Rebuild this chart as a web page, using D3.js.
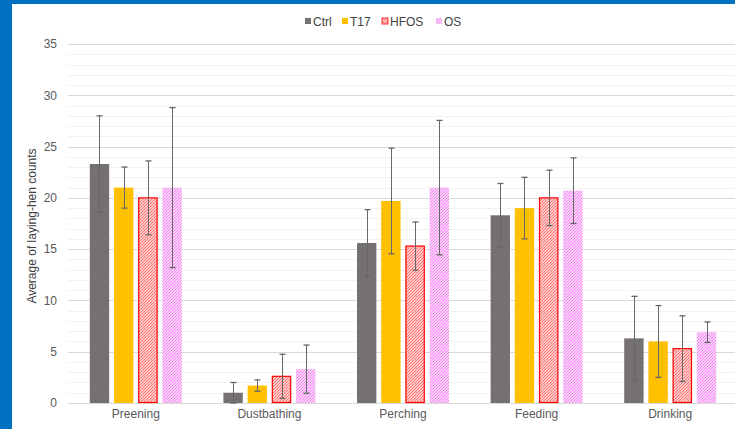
<!DOCTYPE html>
<html>
<head>
<meta charset="utf-8">
<script src="https://cdn.jsdelivr.net/npm/d3@7/dist/d3.min.js"></script>
<style>
  html, body { margin: 0; padding: 0; background: #fff; }
  svg { display: block; font-family: "Liberation Sans", Arial, sans-serif; }
</style>
</head>
<body>
<svg id="chart" width="735" height="429"></svg>
<script>
// Behaviour categories and treatment groups
const categories = ["Preening", "Dustbathing", "Perching", "Feeding", "Drinking"];
const seriesNames = ["Ctrl", "T17", "HFOS", "OS"];

// Mean counts per treatment, in category order
const ctrlValues = [23.3, 1.0, 15.6, 18.3, 6.3];
const t17Values  = [21.0, 1.7, 19.7, 19.0, 6.0];
const hfosValues = [20.0, 2.6, 15.3, 20.0, 5.3];
const osValues   = [21.0, 3.3, 21.0, 20.7, 6.9];

// Error bar half-widths
const ctrlErr = [4.7, 1.0, 3.25, 3.1, 4.1];
const t17Err  = [2.0, 0.55, 5.15, 3.0, 3.5];
const hfosErr = [3.6, 2.15, 2.35, 2.7, 3.2];
const osErr   = [7.8, 2.35, 6.55, 3.2, 1.0];

const yTicks = [0, 5, 10, 15, 20, 25, 30, 35];

const values = [ctrlValues, t17Values, hfosValues, osValues];
const errors = [ctrlErr, t17Err, hfosErr, osErr];

const svg = d3.select("#chart");

// Frame
svg.append("rect").attr("x", 0).attr("y", 0).attr("width", 735).attr("height", 429).attr("fill", "#fff");
svg.append("rect").attr("x", 0).attr("y", 0).attr("width", 735).attr("height", 4).attr("fill", "#0070C0");
svg.append("rect").attr("x", 0).attr("y", 0).attr("width", 12).attr("height", 429).attr("fill", "#0070C0");

// Hatch patterns
const defs = svg.append("defs");
function hatch(id, color, bg) {
  const p = defs.append("pattern")
    .attr("id", id).attr("patternUnits", "userSpaceOnUse")
    .attr("width", 3).attr("height", 3);
  p.append("rect").attr("width", 3).attr("height", 3).attr("fill", bg);
  p.append("path").attr("d", "M-1,1 l2,-2 M0,3 l3,-3 M2,4 l2,-2")
    .attr("stroke", color).attr("stroke-width", 1.2);
}
hatch("hatch-hfos", "#ff6e6e", "#fff2f2");
hatch("hatch-os", "#f283f2", "#fff4ff");

const fills = ["#767171", "#FFC000", "url(#hatch-hfos)", "url(#hatch-os)"];
const strokes = ["none", "none", "#FF0000", "none"];
const legendFills = ["#767171", "#FFC000", "url(#hatch-hfos)", "url(#hatch-os)"];

// Scales
const plotLeft = 68, plotRight = 735;
const y = d3.scaleLinear().domain([0, 35]).range([403, 44]);
const x0 = d3.scaleBand().domain(categories).range([69, 737]).padding(0);
const x1 = d3.scaleBand().domain(seriesNames).range([0, x0.bandwidth()])
  .paddingInner(0.2).paddingOuter(0.86);

// Gridlines: minor every 1, major every 5
const minor = d3.range(0, 36).filter(v => v % 5 !== 0);
svg.append("g").selectAll("line").data(minor).join("line")
  .attr("x1", plotLeft).attr("x2", plotRight)
  .attr("y1", d => Math.round(y(d)) + 0.5).attr("y2", d => Math.round(y(d)) + 0.5)
  .attr("stroke", "#F2F2F2").attr("stroke-width", 1);
svg.append("g").selectAll("line").data(yTicks).join("line")
  .attr("x1", plotLeft).attr("x2", plotRight)
  .attr("y1", d => Math.round(y(d)) + 0.5).attr("y2", d => Math.round(y(d)) + 0.5)
  .attr("stroke", "#D9D9D9").attr("stroke-width", d => d === 0 ? 1.2 : 1);

// Y axis labels
const yAxis = d3.axisLeft(y).tickValues(yTicks).tickSize(0).tickPadding(0);
const gy = svg.append("g").attr("transform", "translate(57,0)").call(yAxis);
gy.select(".domain").remove();
gy.selectAll("text").attr("fill", "#595959").attr("font-size", 12)
  .attr("font-family", "Liberation Sans, Arial, sans-serif");

// Y axis title
svg.append("text")
  .attr("transform", "translate(36,226) rotate(-90)")
  .attr("text-anchor", "middle")
  .attr("font-size", 12).attr("fill", "#404040")
  .text("Average of laying-hen counts");

// X axis labels
const xAxis = d3.axisBottom(x0).tickSize(0).tickPadding(0);
const gx = svg.append("g").attr("transform", "translate(0,409)").call(xAxis);
gx.select(".domain").remove();
gx.selectAll("text").attr("fill", "#595959").attr("font-size", 12)
  .attr("font-family", "Liberation Sans, Arial, sans-serif");

// Bars and error bars
seriesNames.forEach((s, si) => {
  const g = svg.append("g");
  const rows = categories.map((c, ci) => ({ c, v: values[si][ci], e: errors[si][ci] }));
  g.selectAll("rect").data(rows).join("rect")
    .attr("x", d => x0(d.c) + x1(s) + (strokes[si] !== "none" ? 0.5 : 0))
    .attr("width", x1.bandwidth() - (strokes[si] !== "none" ? 1 : 0))
    .attr("y", d => y(d.v))
    .attr("height", d => y(0) - y(d.v) - (strokes[si] !== "none" ? 0.5 : 0))
    .attr("fill", fills[si])
    .attr("stroke", strokes[si])
    .attr("stroke-width", 1.2);

  const eb = g.selectAll("g.err").data(rows).join("g").attr("class", "err");
  const cx = d => Math.round(x0(d.c) + x1(s) + x1.bandwidth() / 2) + 0.5;
  eb.append("line")
    .attr("x1", cx).attr("x2", cx)
    .attr("y1", d => y(d.v + d.e)).attr("y2", d => y(Math.max(0, d.v - d.e)))
    .attr("stroke", "#666666").attr("stroke-width", 1);
  eb.append("line")
    .attr("x1", d => cx(d) - 3).attr("x2", d => cx(d) + 3)
    .attr("y1", d => y(d.v + d.e)).attr("y2", d => y(d.v + d.e))
    .attr("stroke", "#666666").attr("stroke-width", 1.3);
  eb.append("line")
    .attr("x1", d => cx(d) - 3).attr("x2", d => cx(d) + 3)
    .attr("y1", d => y(Math.max(0, d.v - d.e))).attr("y2", d => y(Math.max(0, d.v - d.e)))
    .attr("stroke", "#666666").attr("stroke-width", 1.3);
});

// Legend
const legendX = [305, 342, 382, 436];
const legend = svg.append("g");
seriesNames.forEach((s, i) => {
  legend.append("rect")
    .attr("x", legendX[i]).attr("y", 18).attr("width", 6).attr("height", 6)
    .attr("fill", legendFills[i])
    .attr("stroke", strokes[i]).attr("stroke-width", 0.8);
  legend.append("text")
    .attr("x", legendX[i] + 8).attr("y", 25.5)
    .attr("font-size", 12).attr("fill", "#404040")
    .text(s);
});
</script>
</body>
</html>
